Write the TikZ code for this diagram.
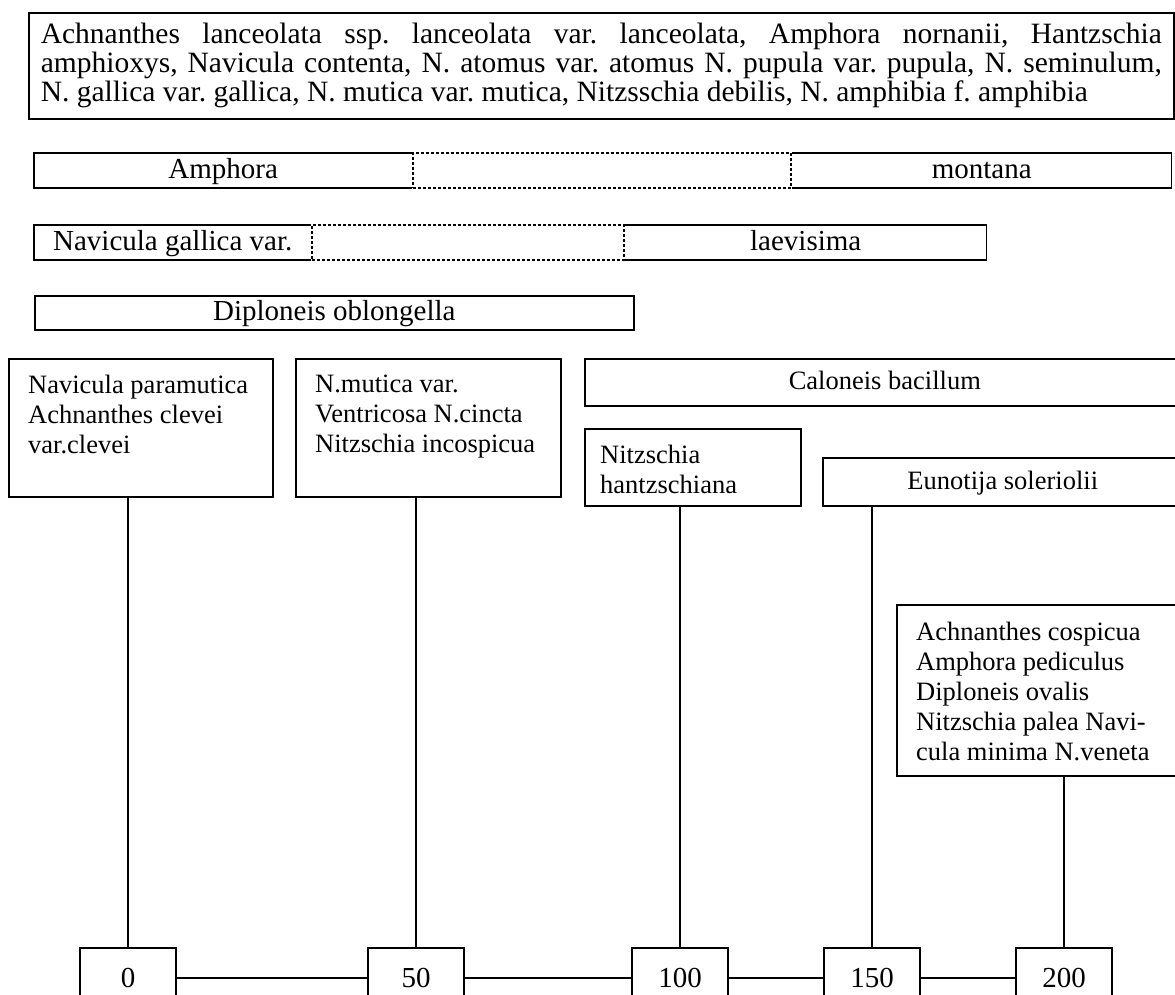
\documentclass[tikz,border=0pt]{standalone}
\usepackage{fontspec}
\setmainfont{Liberation Serif}
\frenchspacing
\begin{document}
\begin{tikzpicture}[x=1pt,y=-1pt,line join=miter,
    every node/.style={font=\fontsize{29}{30}\selectfont},
    small/.style={font=\fontsize{26.5}{30}\selectfont},
    oneline/.style={text height=21,text depth=6},
    border/.style={line width=1.6pt},
    frame/.style={draw,border,inner sep=0pt},
    cell/.style={oneline,inner sep=0pt,minimum height=35,anchor=west},
    gapcell/.style={cell,draw,line width=1.6pt,dash pattern=on 3pt off 2pt},
    tick/.style={frame,minimum width=96,minimum height=60},
    stem/.style={line width=1.1pt}]
  \useasboundingbox (0,0) rectangle (1175,994);
  % species common to all samples
  \node[frame,anchor=north west,minimum width=1145,minimum height=106,
        text width=1121,align=justify,inner xsep=12,font=\fontsize{29.5}{29}\selectfont] (all) at (28,12)
    {\tolerance=10000 Achnanthes lanceolata ssp. lanceolata var. lanceolata, Amphora nornanii, Hantzschia\linebreak
     amphioxys, Navicula contenta, N. atomus var. atomus N. pupula var. pupula, N. seminulum,\linebreak
     N. gallica var. gallica, N. mutica var. mutica, Nitzsschia debilis, N. amphibia f. amphibia};
  % ranges with a gap
  \node[cell,minimum width=378] (amph) at (34,170.5) {Amphora};
  \node[gapcell,minimum width=378] (gapA) at (amph.east) {};
  \node[cell,minimum width=379] (mont) at (gapA.east) {montana};
  \draw[border] (amph.north east) -| (amph.south west) -- (amph.south east);
  \draw[border] (mont.north west) -| (mont.south east) -- (mont.south west);
  \node[cell,minimum width=277] (navg) at (34,242.5) {Navicula gallica var.};
  \node[gapcell,minimum width=312] (gapB) at (navg.east) {};
  \node[cell,minimum width=361] (laev) at (gapB.east) {laevisima};
  \draw[border] (navg.north east) -| (navg.south west) -- (navg.south east);
  \draw[border] (laev.north west) -| (laev.south east) -- (laev.south west);
  \node[frame,oneline,minimum width=599,minimum height=34,anchor=west] (dipl) at (34,313) {Diploneis oblongella};
  % groups above the scale
  \node[frame,anchor=north west,minimum width=264,minimum height=138] (grpA) at (8,358) {};
  \node[small,anchor=north west,inner sep=0pt,align=left] (txtA) at ([shift={(20,17)}]grpA.north west)
    {Navicula paramutica\\Achnanthes clevei\\var.clevei};
  \node[frame,anchor=north west,minimum width=265,minimum height=138] (grpB) at (295,358) {};
  \node[small,anchor=north west,inner sep=0pt,align=left] (txtB) at ([shift={(20,17)}]grpB.north west)
    {N.mutica var.\\Ventricosa N.cincta\\Nitzschia incospicua};
  \node[frame,small,oneline,anchor=north west,minimum width=600,minimum height=47] (calo) at (584,358) {Caloneis bacillum};
  \node[frame,anchor=north west,minimum width=216,minimum height=77] (grpH) at (584,428) {};
  \node[small,anchor=north west,inner sep=0pt,align=left] (txtH) at ([shift={(16,17)}]grpH.north west)
    {Nitzschia\\hantzschiana};
  \node[frame,small,oneline,anchor=north west,minimum width=360,minimum height=48] (grpE) at (822,457) {Eunotija soleriolii};
  \node[frame,anchor=north west,minimum width=290,minimum height=171] (grpC) at (896,604) {};
  \node[small,anchor=north west,inner sep=0pt,align=left] (txtC) at ([shift={(20,18)}]grpC.north west)
    {Achnanthes cospicua\\Amphora pediculus\\Diploneis ovalis\\Nitzschia palea Navi-\\cula minima N.veneta};
  % scale
  \node[tick] (t0) at (128,978) {0};
  \node[tick] (t50) at (416,978) {50};
  \node[tick] (t100) at (680,978) {100};
  \node[tick] (t150) at (872,978) {150};
  \node[tick] (t200) at (1064,978) {200};
  \foreach \a/\b in {t0/t50,t50/t100,t100/t150,t150/t200}
    \draw[border] (\a) -- (\b);
  \draw[stem] (grpA.south -| t0) -- (t0);
  \draw[stem] (grpB.south -| t50) -- (t50);
  \draw[stem] (grpH.south -| t100) -- (t100);
  \draw[stem] (grpE.south -| t150) -- (t150);
  \draw[stem] (grpC.south -| t200) -- (t200);
\end{tikzpicture}
\end{document}
